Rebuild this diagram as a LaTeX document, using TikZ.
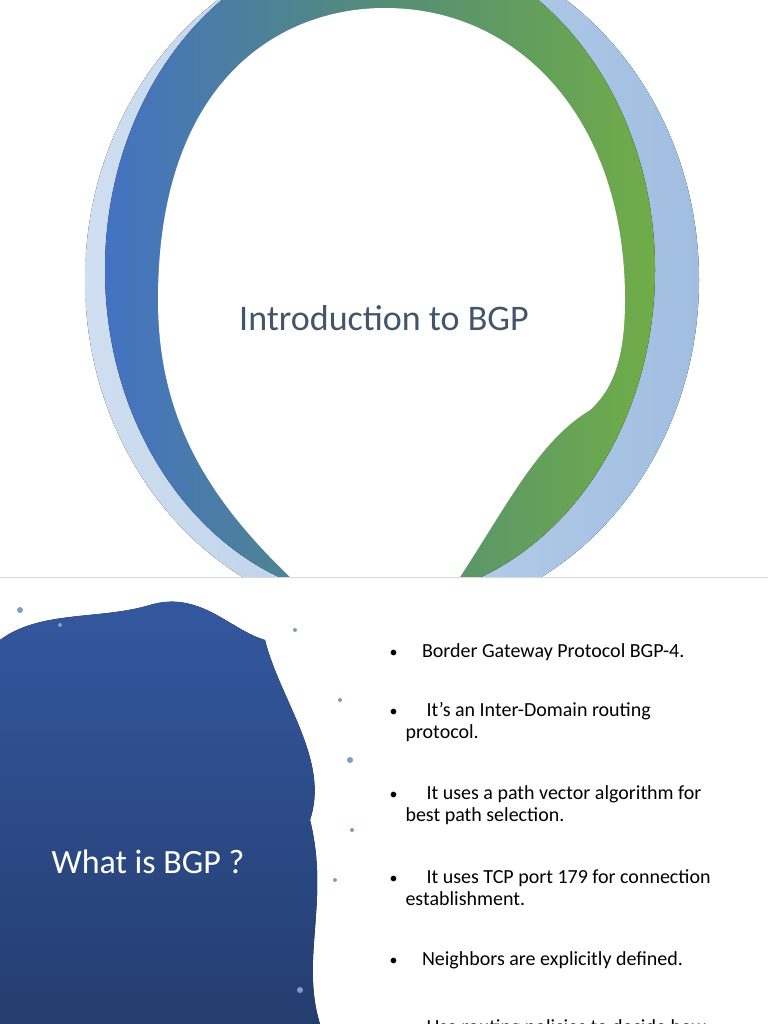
\documentclass[tikz,border=0pt]{standalone}
\usepackage{fontspec}
\setmainfont{Carlito}
\definecolor{ringblue}{RGB}{68,114,196}
\definecolor{ringgreen}{RGB}{112,173,71}
\definecolor{ringteal}{RGB}{84,140,120}
\definecolor{paleblue}{RGB}{160,190,225}
\definecolor{titlegray}{RGB}{68,84,106}
\definecolor{splash}{RGB}{52,88,160}
\tikzset{bullettext/.style={anchor=west,font=\fontsize{20}{22}\selectfont,align=left}}
\newcommand{\bulletmark}{{\fontsize{16}{16}\selectfont•}}
\begin{document}
\begin{tikzpicture}[x=1pt,y=-1pt]
    \useasboundingbox (0,0) rectangle (768,1024);
    \begin{scope}
    \clip (0,0) rectangle (768,577);
    % Outer pale ring
    \fill[left color=paleblue!50,right color=paleblue] (392,280) ellipse (307 and 340);
    % Main ring
    \fill[left color=ringblue,right color=ringgreen,middle color=ringteal] (380,270) ellipse (275 and 330);
    % White inner area
    \fill[white] (158,300) .. controls (158,80) and (280,8) .. (385,8)
        .. controls (520,8) and (625,120) .. (625,300)
        .. controls (625,360) and (612,390) .. (590,410)
        .. controls (540,440) and (510,500) .. (460,577)
        -- (290,577) .. controls (210,500) and (158,420) .. (158,300) -- cycle;
    \end{scope}
    % Title
    \node[text=titlegray,font=\fontsize{36}{40}\selectfont] (title) at (384,318) {Introduction to BGP};
    % Lower slide
    \fill[white] (0,577) rectangle (768,1024);
    \draw[gray!30] (0,577) -- (768,577);
    \fill[top color=splash,bottom color=splash!70!black] (0,640) .. controls (40,610) and (100,620) .. (150,605)
        .. controls (200,590) and (230,630) .. (265,640)
        .. controls (280,700) and (330,760) .. (310,820)
        .. controls (330,900) and (300,960) .. (320,1024)
        -- (0,1024) -- cycle;
    \foreach \px/\py/\r in {20/610/3,60/625/2,295/630/2,340/700/2,350/760/3,335/880/2,352/830/2,300/990/3}
        \fill[splash!60] (\px,\py) circle (\r);
    \node[text=white,font=\fontsize{34}{38}\selectfont] (heading) at (148,862) {What is BGP ?};
    % Bullets
    \node[bullettext] (b1) at (386,652) {\bulletmark\quad\ Border Gateway Protocol BGP-4.};
    \node[bullettext] (b2) at (386,722) {\bulletmark\quad\ \ It’s an Inter-Domain routing\\\hspace*{16pt}protocol.};
    \node[bullettext] (b3) at (386,805) {\bulletmark\quad\ \ It uses a path vector algorithm for\\\hspace*{16pt}best path selection.};
    \node[bullettext] (b4) at (386,888) {\bulletmark\quad\ \ It uses TCP port 179 for connection\\\hspace*{16pt}establishment.};
    \node[bullettext] (b5) at (386,960) {\bulletmark\quad\ Neighbors are explicitly defined.};
    \node[bullettext] (b6) at (386,1028) {\bulletmark\quad\ \ Use routing policies to decide how};
\end{tikzpicture}
\end{document}
